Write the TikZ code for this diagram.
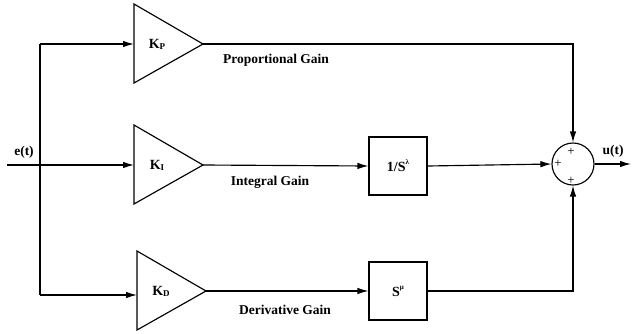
\documentclass[tikz,border=0pt]{standalone}
\usepackage{fontspec}
\setmainfont{Liberation Serif}
\usetikzlibrary{arrows.meta,shapes.geometric}
\begin{document}
\begin{tikzpicture}[x=1pt,y=-1pt,
  line width=1.15pt,
  arr/.style={-{Latex[length=11pt,width=6.5pt]}},
  lbl/.style={font=\bfseries\fontsize{13.5}{15}\selectfont, inner sep=0pt},
  klbl/.style={font=\bfseries\fontsize{14}{15}\selectfont, inner sep=0pt},
  plus/.style={font=\fontsize{13}{14}\selectfont, inner sep=0pt},
  blk/.style={draw, minimum width=58pt, minimum height=58pt, inner sep=0pt, font=\bfseries\fontsize{14}{15}\selectfont}]
\useasboundingbox (0,0) rectangle (633,333);
% triangles
\draw (134,4) -- (203,44) -- (134,83) -- cycle;
\draw (134,125) -- (203,165) -- (134,204) -- cycle;
\draw (137,251) -- (206,291) -- (137,330) -- cycle;
\node[klbl] (kp) at (157,44) {K\raisebox{-0.15ex}{\fontsize{9}{10}\selectfont P}};
\node[klbl] (ki) at (157,165) {K\raisebox{-0.15ex}{\fontsize{9}{10}\selectfont I}};
\node[klbl] (kd) at (161,291) {K\raisebox{-0.15ex}{\fontsize{9}{10}\selectfont D}};
\coordinate (pin) at (134,44);
\coordinate (iin) at (134,165);
\coordinate (din) at (137,295);
\coordinate (pout) at (203,44);
\coordinate (iout) at (203,165);
\coordinate (dout) at (206,291);
% blocks
\node[blk] (int) at (398,166) {1/S\raisebox{1.1ex}{\fontsize{7}{8}\selectfont λ}};
\node[blk] (der) at (398,291) {S\raisebox{1.1ex}{\fontsize{7}{8}\selectfont μ}};
% sum
\node[draw, circle, minimum size=42pt, inner sep=0pt] (sum) at (573,164) {};
\node[plus] (p1) at (571,152) {+};
\node[plus] (p2) at (558,164) {+};
\node[plus] (p3) at (571,181) {+};
% input
\coordinate (ein) at (7,165);
\coordinate (split) at (40,165);
\coordinate (top) at (40,44);
\coordinate (bot) at (40,295);
\draw (ein) -- (split);
\draw[arr] (split) -- (iin);
\draw (top) -- (bot);
\draw[arr] (top) -- (pin);
\draw[arr] (bot) -- (din);
\node[lbl, anchor=south] (elab) at (24,159) {e(t)};
% paths
\draw[arr] (pout) -- (573,44) -- (sum.north);
\draw[arr] (iout) -- (int.west);
\draw[arr] (int.east) -- (sum.west);
\draw[arr] (dout) -- (der.west);
\draw[arr] (der.east) -- (573,291) -- (sum.south);
\coordinate (uout) at (631,164);
\draw[arr] (sum.east) -- (uout);
\node[lbl, anchor=south] (ulab) at (613,158) {u(t)};
% labels
\node[lbl] (pg) at (276,60) {Proportional Gain};
\node[lbl] (ig) at (270,182) {Integral Gain};
\node[lbl] (dg) at (285,310) {Derivative Gain};
\end{tikzpicture}
\end{document}
